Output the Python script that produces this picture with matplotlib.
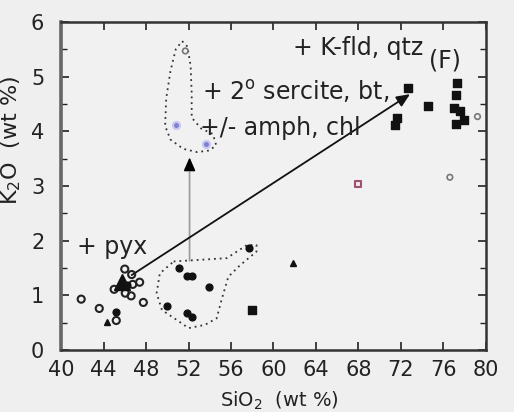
import matplotlib
matplotlib.use("Agg")
import matplotlib.pyplot as plt
from matplotlib.ticker import MultipleLocator

plt.rcParams['font.family'] = ['DejaVu Sans']

# Open circles (basaltic group)
open_x = [41.9, 43.6, 45.2, 45.0, 46.0, 46.65, 47.4, 46.05, 46.6, 47.75, 46.75]
open_y = [0.93, 0.76, 0.54, 1.11, 1.48, 1.38, 1.24, 1.04, 0.99, 0.87, 1.20]

# Filled circles
fill_x = [45.2, 51.1, 51.9, 52.3, 53.95, 50.0, 51.9, 52.3, 57.7, 46.2]
fill_y = [0.70, 1.50, 1.35, 1.35, 1.15, 0.80, 0.68, 0.60, 1.86, 1.18]

# Filled triangles
tri_x = [45.7, 44.3, 61.8]
tri_y = [1.25, 0.52, 1.60]
tri_size = [11, 5, 5]

# Filled squares (felsic group)
sq_x = [58.0, 72.7, 74.5, 71.6, 71.4, 77.3, 77.2, 77.0, 77.6, 77.9, 77.2]
sq_y = [0.74, 4.79, 4.47, 4.25, 4.12, 4.89, 4.66, 4.43, 4.37, 4.21, 4.13]

# Grey open circles
grey_x = [79.2, 76.6, 51.7]
grey_y = [4.27, 3.16, 5.47]

# Blue points
blue_x = [50.8, 53.65]
blue_y = [4.11, 3.77]

# Pink open square
pink_x = [68.0]
pink_y = [3.04]

# Dotted field outlines
upper_field_x = [51.4, 51.9, 52.2, 52.3, 52.3, 53.2, 54.3, 54.6, 54.0, 52.8,
                 51.5, 50.3, 49.8, 49.9, 50.3, 50.8, 51.4]
upper_field_y = [5.65, 5.55, 5.2, 4.7, 4.25, 4.05, 3.95, 3.75, 3.65, 3.62,
                 3.68, 3.85, 4.1, 4.6, 5.1, 5.5, 5.65]
lower_field_x = [50.6, 55.6, 57.5, 58.4, 58.4, 56.85, 55.75, 55.1, 54.65,
                 53.55, 52.0, 50.9, 49.5, 49.0, 49.3, 50.6]
lower_field_y = [1.62, 1.68, 1.92, 1.92, 1.80, 1.55, 1.34, 0.91, 0.58,
                 0.46, 0.40, 0.55, 0.73, 1.04, 1.40, 1.62]

fig = plt.figure(figsize=(5.14, 4.12), dpi=100, facecolor='#efefef')
ax = fig.add_axes([0.1187, 0.1505, 0.8268, 0.7961])
ax.set_facecolor('#f1f1f1')

ax.plot(upper_field_x, upper_field_y, linestyle=(0, (1, 2.2)), color='#333333', lw=1.3)
ax.plot(lower_field_x, lower_field_y, linestyle=(0, (1, 2.2)), color='#333333', lw=1.3)

# Trend arrows
ax.annotate('', xy=(52.1, 3.52), xytext=(52.1, 1.63),
            arrowprops=dict(arrowstyle='-|>,head_length=0.8,head_width=0.35',
                            color='#999999', lw=1.2, shrinkA=0, shrinkB=0))
ax.annotate('', xy=(52.1, 3.52), xytext=(52.1, 3.3),
            arrowprops=dict(arrowstyle='-|>,head_length=0.8,head_width=0.35',
                            color='black', lw=1.0, shrinkA=0, shrinkB=0))
ax.annotate('', xy=(72.85, 4.68), xytext=(46.65, 1.37),
            arrowprops=dict(arrowstyle='-|>,head_length=0.8,head_width=0.35',
                            color='#111111', lw=1.3, shrinkA=0, shrinkB=0))

ax.scatter(open_x, open_y, s=26, facecolors='none', edgecolors='#222222', linewidths=1.5, zorder=3)
ax.scatter(fill_x, fill_y, s=24, color='#111111', zorder=3)
for x, y, m in zip(tri_x, tri_y, tri_size):
    ax.plot(x, y, marker='^', ms=m, color='#111111', linestyle='none', zorder=3)
ax.scatter(sq_x, sq_y, s=26, marker='s', color='#111111', zorder=3)
ax.scatter(grey_x, grey_y, s=16, facecolors='none', edgecolors='#777777', linewidths=1.2, zorder=3)
ax.scatter(blue_x, blue_y, s=26, color='#8080d0', edgecolors='#c8c8f0', linewidths=1.5, zorder=3)
ax.scatter(pink_x, pink_y, s=22, marker='s', facecolors='#f4e8ee', edgecolors='#a05070', linewidths=1.5, zorder=3)

txt = dict(fontsize=17, color='#222222', va='center', ha='left')
ax.text(61.8, 5.52, '+ K-fld, qtz', **txt)
ax.text(74.6, 5.30, '(F)', **txt)
ax.text(53.3, 4.72, '+ 2$^{\\mathrm{o}}$ sercite, bt,', **txt)
ax.text(53.1, 4.06, '+/- amph, chl', **txt)
ax.text(41.5, 1.88, '+ pyx', **txt)

ax.set_xlim(40, 80)
ax.set_ylim(0, 6)
ax.xaxis.set_major_locator(MultipleLocator(4))
ax.yaxis.set_major_locator(MultipleLocator(1))
ax.yaxis.set_minor_locator(MultipleLocator(0.5))
ax.tick_params(which='both', direction='in', top=True, right=True,
               labelsize=15, colors='#222222')
ax.tick_params(which='major', length=6, width=1.2)
ax.tick_params(which='minor', length=4, width=1.0)
ax.tick_params(axis='x', pad=7)
ax.tick_params(axis='y', pad=12)
for s in ax.spines.values():
    s.set_linewidth(1.8)
    s.set_color('#333333')
ax.spines['left'].set_linewidth(2.6)
ax.spines['left'].set_color('#666666')

ax.set_xlabel('SiO$_2$  (wt %)', fontsize=14, color='#222222')
ax.set_ylabel('K$_2$O  (wt %)', fontsize=16, color='#222222')
ax.xaxis.set_label_coords(0.513, -0.12)
ax.yaxis.set_label_coords(-0.09, 0.64)

fig.savefig('out.png', dpi=100, facecolor=fig.get_facecolor())
